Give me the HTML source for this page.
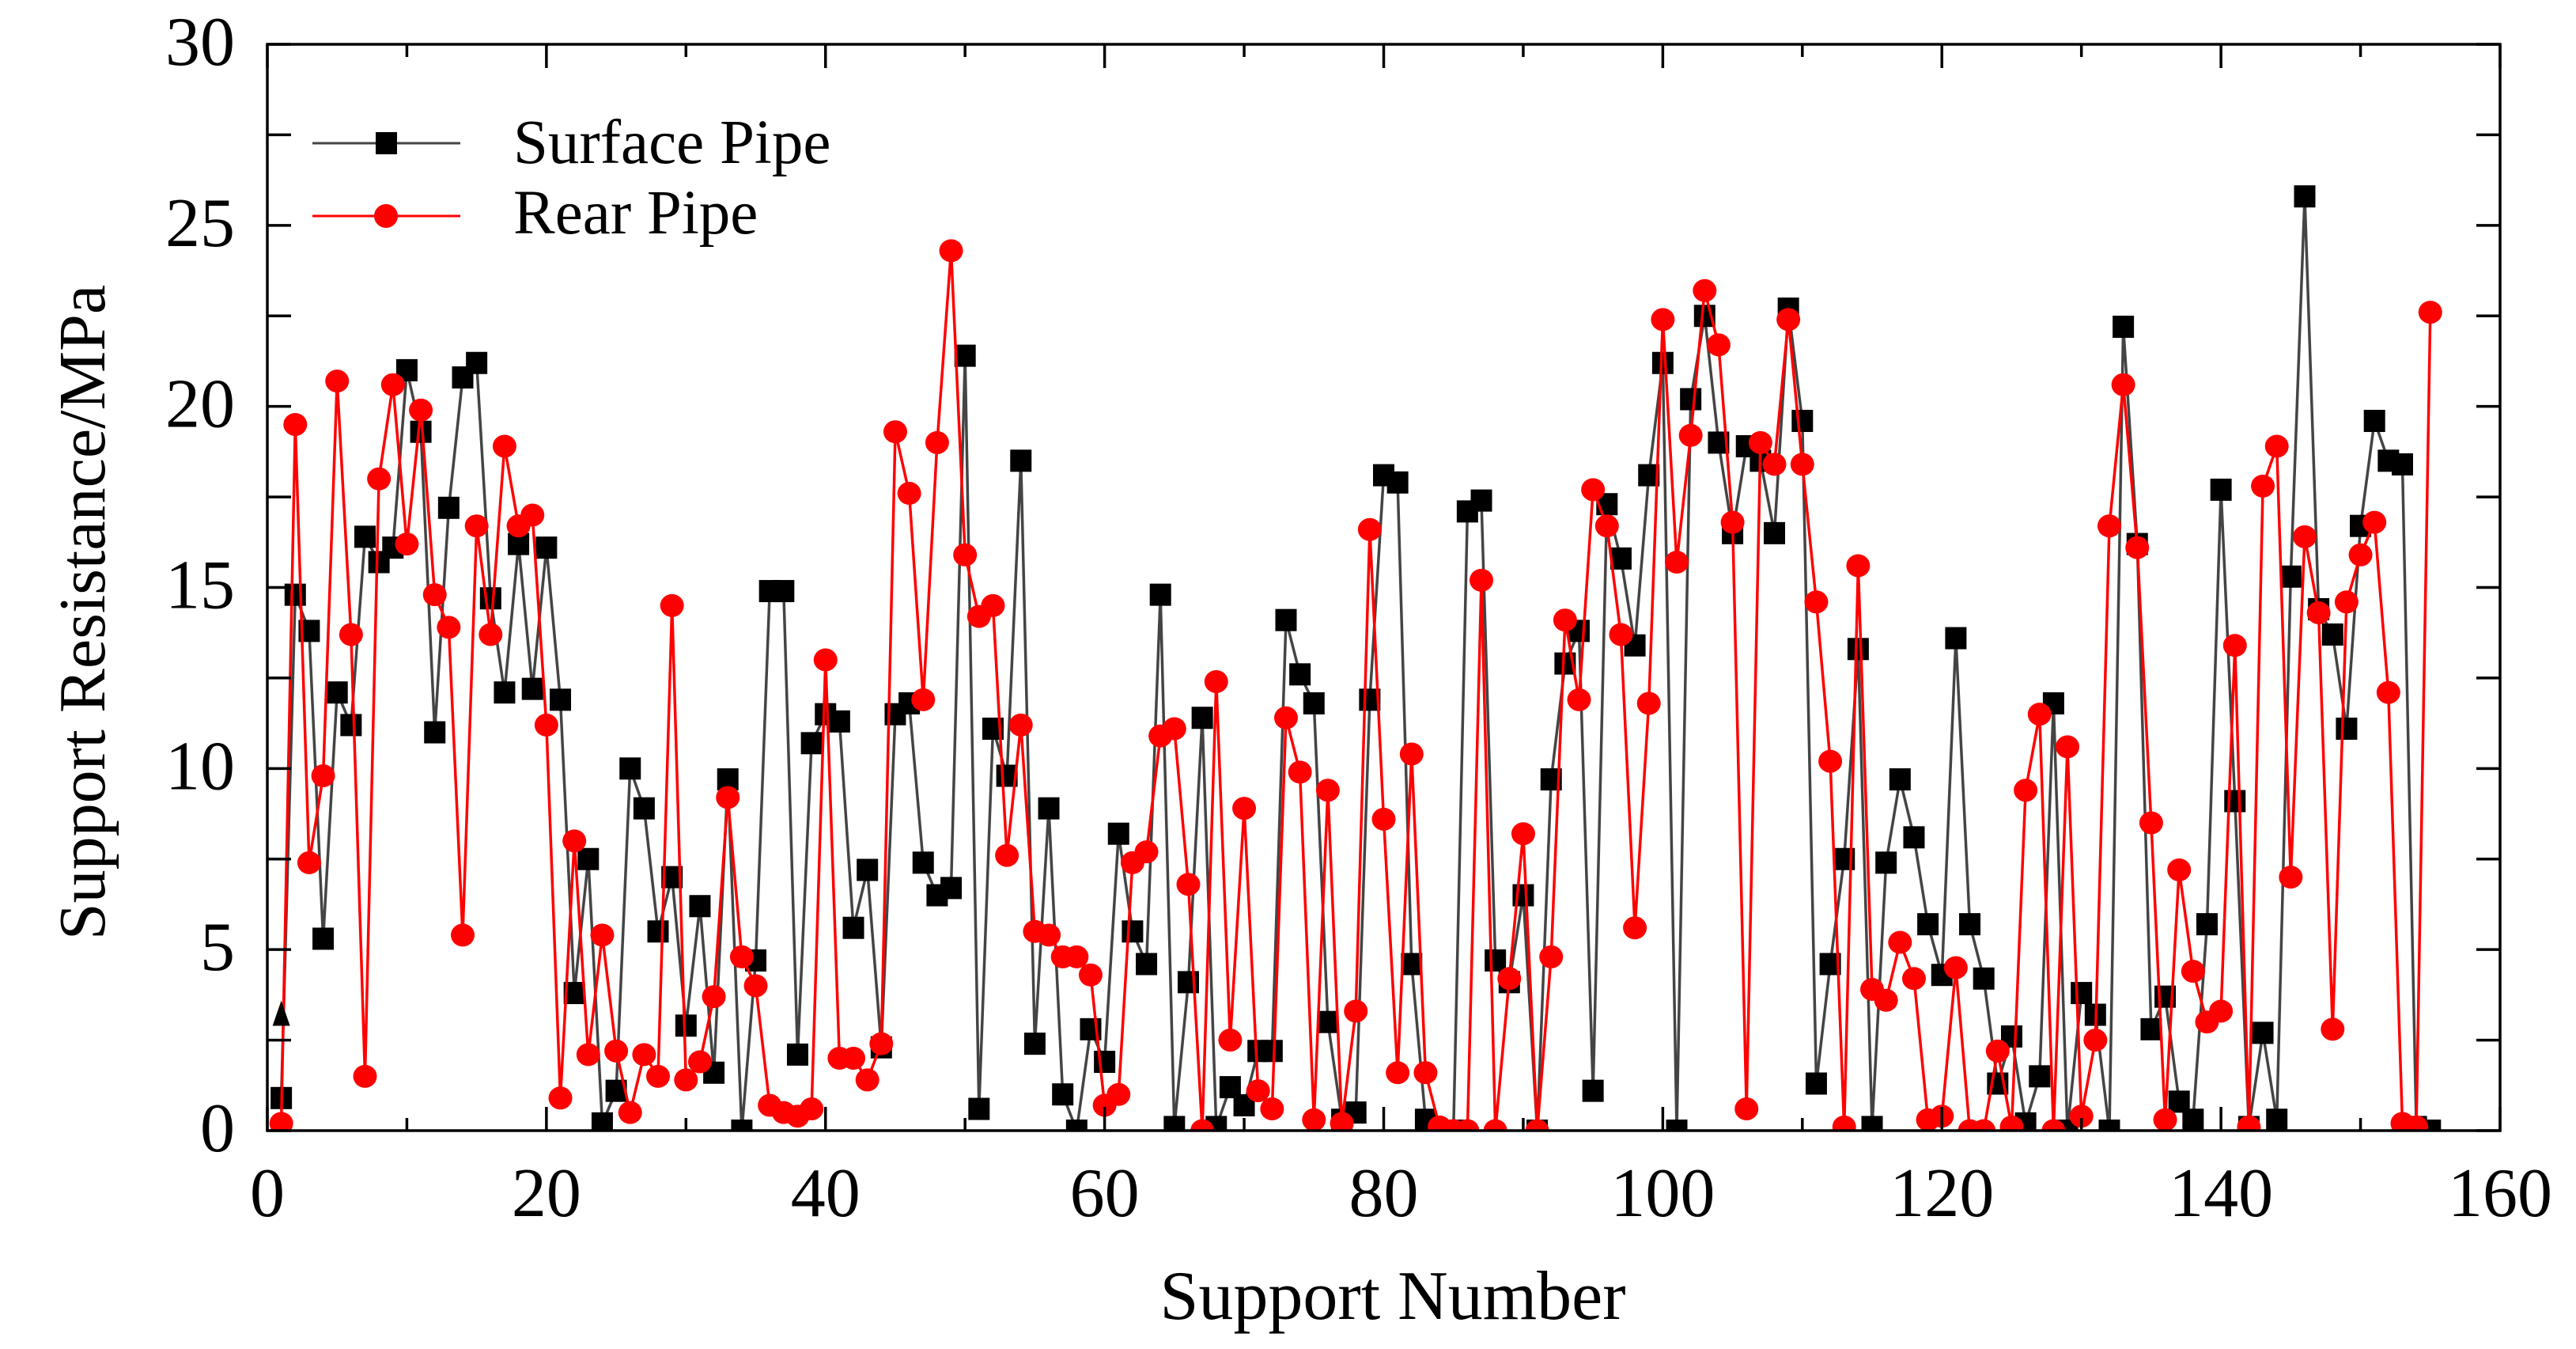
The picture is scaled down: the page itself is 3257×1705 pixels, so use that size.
<!DOCTYPE html>
<html><head><meta charset="utf-8">
<style>
html,body{margin:0;padding:0;background:#fff;}
svg{display:block;font-family:"Liberation Serif","Times New Roman",serif;}
</style></head>
<body>
<svg id="chart" width="3257" height="1705" viewBox="0 0 3257 1705" xmlns="http://www.w3.org/2000/svg">
<rect x="0" y="0" width="3257" height="1705" fill="#fff"/>
<g id="marks"></g>
<g id="axes"></g>
<text x="1761" y="1667" font-size="88" text-anchor="middle">Support Number</text>
<text x="0" y="0" font-size="84" text-anchor="middle" transform="translate(132,774) rotate(-90)">Support Resistance/MPa</text>
<g>
  <g>
    <line x1="395" y1="181" x2="582" y2="181" stroke="#444" stroke-width="3"/>
    <rect x="475" y="167" width="27" height="28" fill="#000"/>
    <text x="649" y="206" font-size="79">Surface Pipe</text>
  </g>
  <g>
    <line x1="395" y1="273" x2="582" y2="273" stroke="#f00" stroke-width="3"/>
    <ellipse cx="488" cy="273" rx="15" ry="15" fill="#f00"/>
    <text x="649" y="295" font-size="79">Rear Pipe</text>
  </g>
</g>
</svg>
<script>
const surfacePipe = [0.9,14.8,13.8,5.3,12.1,11.2,16.4,15.7,16.1,21.0,19.3,11.0,17.2,20.8,21.2,14.7,12.1,16.2,12.2,16.1,
11.9,3.8,7.5,0.2,1.1,10.0,8.9,5.5,7.0,2.9,6.2,1.6,9.7,0.0,4.7,14.9,14.9,2.1,10.7,11.5,
11.3,5.6,7.2,2.3,11.5,11.8,7.4,6.5,6.7,21.4,0.6,11.1,9.8,18.5,2.4,8.9,1.0,0.0,2.8,1.9,
8.2,5.5,4.6,14.8,0.1,4.1,11.4,0.1,1.2,0.7,2.2,2.2,14.1,12.6,11.8,3.0,0.3,0.5,11.9,18.1,
17.9,4.6,0.3,0.0,0.0,17.1,17.4,4.7,4.1,6.5,0.0,9.7,12.9,13.8,1.1,17.3,15.8,13.4,18.1,21.2,
0.0,20.2,22.5,19.0,16.5,18.9,18.5,16.5,22.7,19.6,1.3,4.6,7.5,13.3,0.1,7.4,9.7,8.1,5.7,4.3,
13.6,5.7,4.2,1.3,2.6,0.2,1.5,11.8,0.0,3.8,3.2,0.0,22.2,16.2,2.8,3.7,0.8,0.3,5.7,17.7,
9.1,0.1,2.7,0.3,15.3,25.8,14.4,13.7,11.1,16.7,19.6,18.5,18.4,0.1,0.0];
const rearPipe = [0.2,19.5,7.4,9.8,20.7,13.7,1.5,18.0,20.6,16.2,19.9,14.8,13.9,5.4,16.7,13.7,18.9,16.7,17.0,11.2,
0.9,8.0,2.1,5.4,2.2,0.5,2.1,1.5,14.5,1.4,1.9,3.7,9.2,4.8,4.0,0.7,0.5,0.4,0.6,13.0,
2.0,2.0,1.4,2.4,19.3,17.6,11.9,19.0,24.3,15.9,14.2,14.5,7.6,11.2,5.5,5.4,4.8,4.8,4.3,0.7,
1.0,7.4,7.7,10.9,11.1,6.8,0.0,12.4,2.5,8.9,1.1,0.6,11.4,9.9,0.3,9.4,0.2,3.3,16.6,8.6,
1.6,10.4,1.6,0.1,0.0,0.0,15.2,0.0,4.2,8.2,0.0,4.8,14.1,11.9,17.7,16.7,13.7,5.6,11.8,22.4,
15.7,19.2,23.2,21.7,16.8,0.6,19.0,18.4,22.4,18.4,14.6,10.2,0.1,15.6,3.9,3.6,5.2,4.2,0.3,0.4,
4.5,0.0,0.0,2.2,0.1,9.4,11.5,0.0,10.6,0.4,2.5,16.7,20.6,16.1,8.5,0.3,7.2,4.4,3.0,3.3,
13.4,0.1,17.8,18.9,7.0,16.4,14.3,2.8,14.6,15.9,16.8,12.1,0.2,0.1,22.6];
const xTicks = [0,20,40,60,80,100,120,140,160];
const yTicks = [0,5,10,15,20,25,30];
const outlier = {x:1, y:3.2};

const L=338, R=3161, T=56, B=1429;
const xMin=0,xMax=160,yMin=0,yMax=30;
function sx(v){return L+(v-xMin)/(xMax-xMin)*(R-L);}
function sy(v){return B-(v-yMin)/(yMax-yMin)*(B-T);}
const NS='http://www.w3.org/2000/svg';
function mk(tag,attrs,parent){const e=document.createElementNS(NS,tag);for(const k in attrs)e.setAttribute(k,attrs[k]);parent.appendChild(e);return e;}
const marks=document.getElementById('marks');
const axes=document.getElementById('axes');

const defs=mk('defs',{},marks);
const cp=mk('clipPath',{id:'clip'},defs);
mk('rect',{x:L,y:T,width:R-L,height:B-T},cp);

function series(vals,color,name,shape){
  const g=mk('g',{'clip-path':'url(#clip)'},marks);
  
  
  const pts=vals.map((v,i)=>sx(i+1).toFixed(1)+','+sy(v).toFixed(1)).join(' ');
  const pl=mk('polyline',{points:pts,fill:'none',stroke:color==='#000'?'#444':color,'stroke-width':3.5,'stroke-linejoin':'round'},g);
  
  
  vals.forEach((v,i)=>{
    let m;
    if(shape==='square'){m=mk('rect',{x:sx(i+1)-13.5,y:sy(v)-14,width:27,height:28,fill:color},g);}
    else{m=mk('ellipse',{cx:sx(i+1),cy:sy(v),rx:15,ry:14.5,fill:color},g);}
    
    
  });
}
series(surfacePipe,'#000','surface-pipe','square');
series(rearPipe,'#f00','rear-pipe','circle');

const tx=sx(outlier.x), ty=sy(outlier.y);
const tri=mk('polygon',{points:`${tx-11},${ty+14} ${tx+11},${ty+14} ${tx},${ty-18}`,fill:'#000'},marks);



const fr=mk('rect',{x:L,y:T,width:R-L,height:B-T,fill:'none',stroke:'#000','stroke-width':3.5},axes);



for(let v=xMin; v<=xMax; v+=10){
  const major = xTicks.includes(v);
  const len = major?30:16;
  const x=sx(v);
  mk('line',{x1:x,y1:B,x2:x,y2:B-len,stroke:'#000','stroke-width':3.5},axes);
  mk('line',{x1:x,y1:T,x2:x,y2:T+len,stroke:'#000','stroke-width':3.5},axes);
}
xTicks.forEach(v=>{
  const t=mk('text',{x:sx(v),y:1537,'font-size':88,'text-anchor':'middle'},axes);
  t.textContent=String(v);
  
  
});
for(let v=yMin; v<=yMax; v+=2.5){
  const y=sy(v);
  mk('line',{x1:L,y1:y,x2:L+30,y2:y,stroke:'#000','stroke-width':3.5},axes);
  mk('line',{x1:R,y1:y,x2:R-30,y2:y,stroke:'#000','stroke-width':3.5},axes);
}
yTicks.forEach(v=>{
  const t=mk('text',{x:297,y:sy(v)+26,'font-size':88,'text-anchor':'end'},axes);
  t.textContent=String(v);
  
  
});
</script>
</body></html>
